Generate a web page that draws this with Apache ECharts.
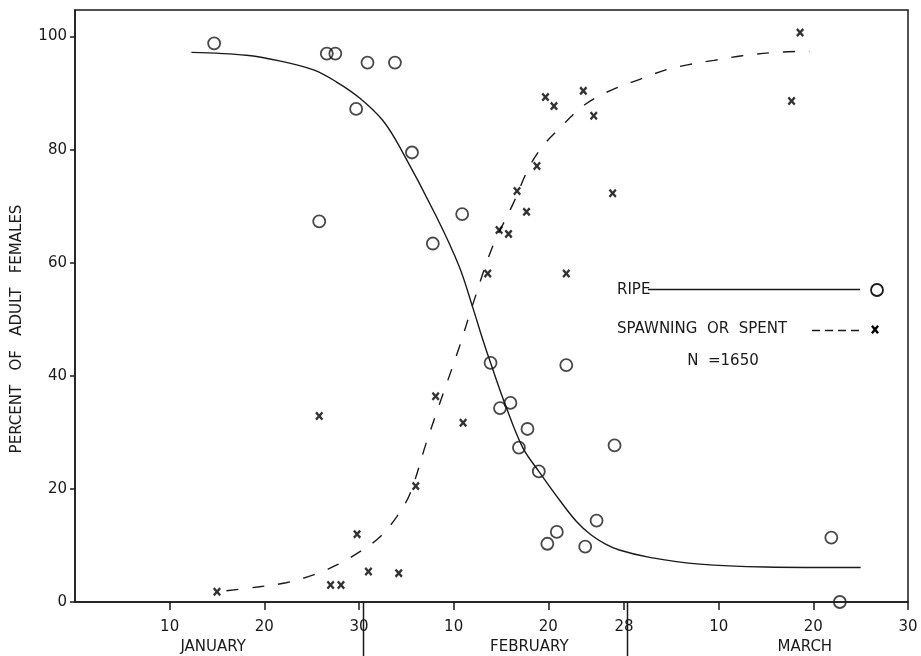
<!DOCTYPE html>
<html>
<head>
<meta charset="utf-8">
<style>
html, body { margin: 0; background: #fff; }
#chart { width: 921px; height: 656px; }
</style>
</head>
<body>
<div id="chart"></div>
<script src="https://cdn.jsdelivr.net/npm/echarts@6/dist/echarts.min.js"></script>
<script>
// x = day counted from 1 Jan (Feb d = 30 + d, Mar d = 58 + d), y = percent
var ripeDays = [14.7, 25.8, 26.6, 27.5, 29.7, 30.9, 33.8, 35.6, 37.8, 40.9, 43.9, 44.9, 46.0, 46.9, 47.8, 49.0, 49.9, 50.9, 51.9, 53.9, 55.1, 57.0, 79.9, 80.8];
var ripePct  = [98.8, 67.3, 97.0, 97.0, 87.2, 95.4, 95.4, 79.5, 63.4, 68.6, 42.3, 34.3, 35.2, 27.3, 30.6, 23.1, 10.3, 12.4, 41.9, 9.8, 14.4, 27.7, 11.4, 0];

var spentDays = [15.0, 25.8, 27.0, 28.1, 29.8, 31.0, 34.2, 36.0, 38.1, 41.0, 43.6, 44.8, 45.8, 46.7, 47.7, 48.8, 49.7, 50.6, 51.9, 53.7, 54.8, 56.8, 75.7, 76.6];
var spentPct  = [1.8, 32.9, 3.0, 3.0, 12.0, 5.4, 5.1, 20.5, 36.4, 31.7, 58.1, 65.8, 65.1, 72.7, 69.0, 77.1, 89.3, 87.7, 58.1, 90.4, 86.0, 72.3, 88.6, 100.7];

// fitted curves
var ripeCurveDays = [12.3, 18.1, 21.6, 25.2, 27.6, 30.1, 32.5, 34.3, 38.2, 40.6, 42.0, 43.1, 43.9, 45.5, 47.3, 49.0, 51.2, 53.0, 54.5, 56.0, 57.5, 60.7, 66.0, 73.0, 83.0];
var ripeCurvePct  = [97.2, 96.7, 95.7, 94.1, 92.0, 89.1, 85.2, 80.5, 68.1, 59.3, 52.2, 46.3, 42.3, 34.7, 27.3, 23.1, 18.0, 14.2, 11.9, 10.3, 9.2, 7.9, 6.7, 6.2, 6.1];

var spentCurveDays = [16.0, 19.5, 22.3, 25.2, 27.6, 30.1, 32.2, 34.0, 35.4, 37.1, 38.3, 40.6, 42.0, 44.1, 46.3, 48.0, 49.5, 51.2, 53.8, 56.6, 59.6, 62.4, 64.7, 67.5, 70.5, 73.9, 77.6];
var spentCurvePct  = [2.0, 2.7, 3.4, 4.8, 6.5, 8.9, 11.5, 15.1, 19.2, 28.1, 34.0, 45.1, 52.5, 62.8, 70.5, 77.0, 80.8, 83.8, 87.9, 90.5, 92.4, 94.1, 95.0, 95.8, 96.6, 97.2, 97.4];

var tickDays   = [10, 20, 30, 40, 50, 58, 68, 78, 88];
var tickLabels = ['10', '20', '30', '10', '20', '28', '10', '20', '30'];
var monthCenters = [14.6, 48.0, 77.1];
var monthNames   = ['JANUARY', 'FEBRUARY', 'MARCH'];
var monthBounds  = [30.4, 58.3];
var yTicks = [0, 20, 40, 60, 80, 100];

var ink = '#1a1a1a';
var font = 'DejaVu Sans';

function pairs(xs, ys) {
    return xs.map(function (x, i) { return [x, ys[i]]; });
}

var chart = echarts.init(document.getElementById('chart'));

var crossPath = 'path://M0,2L2,0L5,3L8,0L10,2L7,5L10,8L8,10L5,7L2,10L0,8L3,5Z';

option = {
    backgroundColor: '#fff',
    animation: false,
    grid: {
        left: 75,
        right: 13,
        top: 10,
        bottom: 54,
        show: true,
        borderColor: ink,
        borderWidth: 1.5
    },
    xAxis: [
        {
            type: 'value',
            min: 0,
            max: 88,
            position: 'bottom',
            splitLine: { show: false },
            axisLine: { lineStyle: { color: ink, width: 1.5 } },
            axisTick: { customValues: tickDays, length: 8, lineStyle: { color: ink, width: 1.5 } },
            axisLabel: {
                customValues: tickDays,
                formatter: function (v) { return tickLabels[tickDays.indexOf(v)]; },
                margin: 18,
                fontSize: 15,
                color: ink,
                fontFamily: font
            }
        },
        {
            type: 'value',
            min: 0,
            max: 88,
            position: 'bottom',
            splitLine: { show: false },
            axisLine: { show: false },
            axisTick: { show: false },
            axisLabel: {
                customValues: monthCenters,
                formatter: function (v) { return monthNames[monthCenters.indexOf(v)]; },
                margin: 38,
                fontSize: 15,
                color: ink,
                fontFamily: font
            }
        }
    ],
    yAxis: {
        type: 'value',
        min: 0,
        max: 104.7,
        splitLine: { show: false },
        axisLine: { show: true, lineStyle: { color: ink, width: 1.5 } },
        axisTick: { show: true, customValues: yTicks, length: 5, lineStyle: { color: ink, width: 1.5 } },
        axisLabel: {
            customValues: yTicks,
            margin: 8,
            fontSize: 15,
            color: ink,
            fontFamily: font
        }
    },
    series: [
        {
            name: 'ripe curve',
            type: 'line',
            smooth: 0.35,
            showSymbol: false,
            data: pairs(ripeCurveDays, ripeCurvePct),
            lineStyle: { color: ink, width: 1.4 },
            z: 2
        },
        {
            name: 'spent curve',
            type: 'line',
            smooth: 0.35,
            showSymbol: false,
            data: pairs(spentCurveDays, spentCurvePct),
            lineStyle: { color: ink, width: 1.4, type: [12, 14] },
            z: 2
        },
        {
            name: 'RIPE',
            type: 'scatter',
            clip: false,
            symbol: 'circle',
            symbolSize: 12,
            data: pairs(ripeDays, ripePct),
            itemStyle: { color: 'rgba(0,0,0,0)', borderColor: ink, borderWidth: 1.8 },
            z: 3
        },
        {
            name: 'SPAWNING OR SPENT',
            type: 'scatter',
            clip: false,
            symbol: crossPath,
            symbolSize: [8, 9],
            data: pairs(spentDays, spentPct),
            itemStyle: { color: '#000' },
            z: 3
        }
    ]
};

chart.setOption(option);

var gfx = [];
monthBounds.forEach(function (d, i) {
    var x = Math.round(chart.convertToPixel({ xAxisIndex: 0 }, d)) + 0.5;
    gfx.push({ type: 'line', id: 'sep' + i, shape: { x1: x, y1: 602, x2: x, y2: 656 }, style: { stroke: ink, lineWidth: 1.5 } });
});
var txt = { fill: ink, fontFamily: font, fontSize: 15 };
gfx.push(
    { type: 'text', x: 17, y: 329, rotation: Math.PI / 2,
      style: Object.assign({ text: 'PERCENT   OF   ADULT   FEMALES', align: 'center', verticalAlign: 'middle' }, txt) },
    { type: 'text', x: 617, y: 290, style: Object.assign({ text: 'RIPE', verticalAlign: 'middle' }, txt) },
    { type: 'line', shape: { x1: 648, y1: 289.5, x2: 860, y2: 289.5 }, style: { stroke: ink, lineWidth: 1.3 } },
    { type: 'circle', shape: { cx: 877, cy: 290, r: 6 }, style: { fill: 'none', stroke: ink, lineWidth: 1.8 } },
    { type: 'text', x: 617, y: 329, style: Object.assign({ text: 'SPAWNING  OR  SPENT', verticalAlign: 'middle' }, txt) },
    { type: 'line', shape: { x1: 812, y1: 330.5, x2: 860, y2: 330.5 }, style: { stroke: ink, lineWidth: 1.3, lineDash: [8, 5] } },
    { type: 'polygon', shape: { points: [[871,326.5],[872.8,325],[875,327.6],[877.2,325],[879,326.5],[876.6,329.5],[879,332.5],[877.2,334],[875,331.4],[872.8,334],[871,332.5],[873.4,329.5]] }, style: { fill: '#000' } },
    { type: 'text', x: 723, y: 361, style: Object.assign({ text: 'N  =1650', align: 'center', verticalAlign: 'middle' }, txt) }
);
chart.setOption({ graphic: gfx });
</script>
</body>
</html>
